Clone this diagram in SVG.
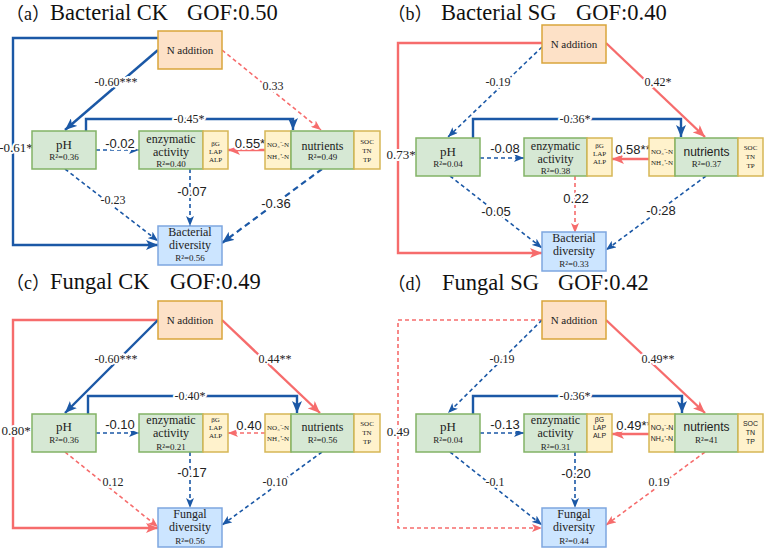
<svg xmlns="http://www.w3.org/2000/svg" width="767" height="551" viewBox="0 0 767 551">
<defs>
<marker id="ab" viewBox="0 0 12 10" refX="12" refY="5" markerWidth="12" markerHeight="10" markerUnits="userSpaceOnUse" orient="auto"><path d="M0,0 L12,5 L0,10 L3,5 z" fill="#1b58a6"/></marker>
<marker id="abd" viewBox="0 0 10 8" refX="10" refY="4" markerWidth="10" markerHeight="8" markerUnits="userSpaceOnUse" orient="auto"><path d="M0,0 L10,4 L0,8 L2.5,4 z" fill="#1b58a6"/></marker>
<marker id="ar" viewBox="0 0 12 10" refX="12" refY="5" markerWidth="12" markerHeight="10" markerUnits="userSpaceOnUse" orient="auto"><path d="M0,0 L12,5 L0,10 L3,5 z" fill="#f66c6c"/></marker>
<marker id="ard" viewBox="0 0 10 8" refX="10" refY="4" markerWidth="10" markerHeight="8" markerUnits="userSpaceOnUse" orient="auto"><path d="M0,0 L10,4 L0,8 L2.5,4 z" fill="#f66c6c"/></marker>
</defs>
<style>
.t{font-family:"Liberation Serif","Noto Sans CJK SC",serif;font-size:22.5px;fill:#111;text-anchor:start}
.tp{font-family:"Liberation Serif","Noto Sans CJK SC",serif;font-size:18px;fill:#111}
.n{fill:#fde1c7;stroke:#d9a53b;stroke-width:1.5}
.g{fill:#d6e8d4;stroke:#82b366;stroke-width:1.5}
.y{fill:#fff2cc;stroke:#d6b656;stroke-width:1.5}
.d{fill:#cce5ff;stroke:#7ea6e0;stroke-width:1.5}
text{font-family:"Liberation Serif",serif;fill:#222;text-anchor:middle}
.s11{font-size:11px}.s12{font-size:12px}.s13{font-size:13px}.s9{font-size:9px}.s7{font-size:7px}
.sans{font-family:"Liberation Sans",Arial,sans-serif}
.bs{fill:none;stroke:#1b58a6;stroke-width:2.4;marker-end:url(#ab)}
.bd{fill:none;stroke:#1b58a6;stroke-width:1.6;stroke-dasharray:4 3;marker-end:url(#abd)}
.bdt{fill:none;stroke:#1b58a6;stroke-width:2.2;stroke-dasharray:6 4;marker-end:url(#ab)}
.rs{fill:none;stroke:#f66c6c;stroke-width:2.4;marker-end:url(#ar)}
.rd{fill:none;stroke:#f66c6c;stroke-width:1.6;stroke-dasharray:4 3;marker-end:url(#ard)}
.l{paint-order:stroke;stroke:#fff;stroke-width:4px;stroke-linejoin:round;font-size:12px}
.ls{paint-order:stroke;stroke:#fff;stroke-width:4px;stroke-linejoin:round;font-size:13px;font-family:"Liberation Sans",Arial,sans-serif}
.lt{paint-order:stroke;stroke:#fff;stroke-width:4px;stroke-linejoin:round;font-size:13px}
</style>
<rect width="767" height="551" fill="#fff"/>

<g id="titles">
<text class="tp" x="28" y="20">（a）</text><text class="t" x="50" y="20">Bacterial CK</text><text class="t" x="187" y="20">GOF:0.50</text>
<text class="tp" x="410" y="20">（b）</text><text class="t" x="441" y="20">Bacterial SG</text><text class="t" x="576" y="20">GOF:0.40</text>
<text class="tp" x="28" y="289">（c）</text><text class="t" x="50" y="289">Fungal CK</text><text class="t" x="170" y="289">GOF:0.49</text>
<text class="tp" x="410" y="290">（d）</text><text class="t" x="442" y="290">Fungal SG</text><text class="t" x="558" y="290">GOF:0.42</text>
</g>

<g id="connectors">
<!-- a -->
<path class="bs" d="M158,38 H13 V245 H158"/>
<path class="bs" d="M158,50 L65,130"/>
<path class="rd" d="M222,50 L321,130"/>
<path class="bs" d="M86,131 V119 H293 V130"/>
<path class="bd" d="M96,150 H139"/>
<path class="rs" d="M265,150 H228"/>
<path class="bd" d="M190,169 V226"/>
<path class="bd" d="M65,169 L158,241"/>
<path class="bdt" d="M322,169 L222,243"/>
<!-- b -->
<path class="rs" d="M542,43 H398 V253 H542"/>
<path class="bd" d="M542,47 L448,137"/>
<path class="rs" d="M606,43 L705,137"/>
<path class="bs" d="M473,138 V119 H681 V137"/>
<path class="bd" d="M480,158 H524"/>
<path class="rs" d="M649,159 H612"/>
<path class="rd" d="M575,176 V233"/>
<path class="bd" d="M450,176 L542,248"/>
<path class="bd" d="M706,176 L606,250"/>
<!-- c -->
<path class="rs" d="M158,320 H13 V528 H158"/>
<path class="bs" d="M158,320 L65,413"/>
<path class="rs" d="M222,320 L320,413"/>
<path class="bs" d="M88,414 V396 H297 V413"/>
<path class="bd" d="M96,433 H139"/>
<path class="rd" d="M265,433 H228"/>
<path class="bd" d="M190,452 V508"/>
<path class="rd" d="M65,452 L158,527"/>
<path class="bd" d="M322,452 L222,525"/>
<!-- d -->
<path class="rd" d="M542,320 H398 V528 H542"/>
<path class="bd" d="M542,320 L448,413"/>
<path class="rs" d="M606,320 L705,413"/>
<path class="bs" d="M473,414 V396 H682 V413"/>
<path class="bd" d="M480,433 H524"/>
<path class="rs" d="M649,434 H612"/>
<path class="bd" d="M575,452 V508"/>
<path class="bd" d="M450,452 L542,525"/>
<path class="rd" d="M705,452 L606,525"/>
</g>

<g id="edge-labels">
<text class="l" x="116" y="86">-0.60***</text>
<text class="l" x="273" y="90">0.33</text>
<text class="l" x="189" y="123">-0.45*</text>
<text class="lt" x="16" y="152">-0.61*</text>
<text class="ls" x="120" y="148">-0.02</text>
<text class="ls" x="250" y="148">0.55*</text>
<text class="ls" x="192" y="196">-0.07</text>
<text class="l" x="113" y="204">-0.23</text>
<text class="ls" x="276" y="208">-0.36</text>

<text class="l" x="498" y="86">-0.19</text>
<text class="l" x="658" y="86">0.42*</text>
<text class="l" x="575" y="123">-0.36*</text>
<text class="lt" x="401" y="159">0.73*</text>
<text class="ls" x="505" y="153">-0.08</text>
<text class="ls" x="633" y="154">0.58**</text>
<text class="ls" x="576" y="203">0.22</text>
<text class="ls" x="496" y="216">-0.05</text>
<text class="ls" x="661" y="215">-0.28</text>

<text class="l" x="116" y="363">-0.60***</text>
<text class="l" x="275" y="363">0.44**</text>
<text class="l" x="190" y="400">-0.40*</text>
<text class="lt" x="16" y="435">0.80*</text>
<text class="ls" x="120" y="429">-0.10</text>
<text class="ls" x="249" y="430">0.40</text>
<text class="ls" x="192" y="477">-0.17</text>
<text class="l" x="113" y="486">0.12</text>
<text class="l" x="275" y="486">-0.10</text>

<text class="l" x="502" y="363">-0.19</text>
<text class="l" x="658" y="363">0.49**</text>
<text class="l" x="575" y="400">-0.36*</text>
<text class="lt" x="398" y="436">0.49</text>
<text class="ls" x="505" y="429">-0.13</text>
<text class="ls" x="634" y="430">0.49**</text>
<text class="ls" x="576" y="478">-0.20</text>
<text class="l" x="495" y="486">-0.1</text>
<text class="l" x="659" y="486">0.19</text>
</g>

<g id="a-n"><rect class="n" x="158" y="31" width="64" height="38"/><text class="s11" x="190" y="54">N addition</text></g>
<g id="a-ph"><rect class="g" x="32" y="131" width="64" height="38"/><text class="s13" x="64" y="149">pH</text><text class="s9" x="64" y="160">R²=0.36</text></g>
<g id="a-enz"><rect class="g" x="139" y="131" width="64" height="38"/><text class="s12" x="171" y="143">enzymatic</text><text class="s12" x="171" y="156">activity</text><text class="s9" x="171" y="167">R²=0.40</text>
<rect class="y" x="203" y="131" width="25" height="38"/><text class="s7" x="215.5" y="146">βG</text><text class="s7" x="215.5" y="154">LAP</text><text class="s7" x="215.5" y="162">ALP</text></g>
<g id="a-nut"><rect class="y" x="265" y="131" width="26" height="38"/><text class="s7" x="278" y="147">NO₃⁻-N</text><text class="s7" x="278" y="159">NH₄⁺-N</text>
<rect class="g" x="291" y="131" width="63" height="38"/><text class="s12" x="322.5" y="150">nutrients</text><text class="s9" x="322.5" y="160">R²=0.49</text>
<rect class="y" x="354" y="131" width="26" height="38"/><text class="s7" x="367" y="144">SOC</text><text class="s7" x="367" y="153">TN</text><text class="s7" x="367" y="162">TP</text></g>
<g id="a-div"><rect class="d" x="158" y="226" width="64" height="39"/><text class="s12" x="190" y="236">Bacterial</text><text class="s12" x="190" y="249">diversity</text><text class="s9" x="190" y="261">R²=0.56</text></g>

<g id="b-n"><rect class="n" x="542" y="25" width="64" height="38"/><text class="s11" x="574" y="48">N addition</text></g>
<g id="b-ph"><rect class="g" x="416" y="138" width="64" height="38"/><text class="s13" x="448" y="156">pH</text><text class="s9" x="448" y="167">R²=0.04</text></g>
<g id="b-enz"><rect class="g" x="524" y="138" width="63" height="38"/><text class="s12" x="555.5" y="150">enzymatic</text><text class="s12" x="555.5" y="163">activity</text><text class="s9" x="555.5" y="174">R²=0.38</text>
<rect class="y" x="587" y="138" width="25" height="38"/><text class="s7" x="599.5" y="148">βG</text><text class="s7" x="599.5" y="156">LAP</text><text class="s7" x="599.5" y="164">ALP</text></g>
<g id="b-nut"><rect class="y" x="649" y="138" width="26" height="38"/><text class="s7" x="662" y="154">NO₃⁻-N</text><text class="s7" x="662" y="165">NH₄⁺-N</text>
<rect class="g" x="675" y="138" width="63" height="38"/><text class="s12 sans" x="706.5" y="156">nutrients</text><text class="s9" x="706.5" y="167">R²=0.37</text>
<rect class="y" x="738" y="138" width="25" height="38"/><text class="s7" x="750.5" y="150">SOC</text><text class="s7" x="750.5" y="159">TN</text><text class="s7" x="750.5" y="168">TP</text></g>
<g id="b-div"><rect class="d" x="542" y="232" width="64" height="39"/><text class="s12" x="574" y="242">Bacterial</text><text class="s12" x="574" y="255">diversity</text><text class="s9" x="574" y="266.5">R²=0.33</text></g>

<g id="c-n"><rect class="n" x="158" y="301" width="64" height="38"/><text class="s11" x="190" y="324">N addition</text></g>
<g id="c-ph"><rect class="g" x="32" y="414" width="64" height="38"/><text class="s13" x="64" y="431">pH</text><text class="s9" x="64" y="443">R²=0.36</text></g>
<g id="c-enz"><rect class="g" x="139" y="414" width="64" height="38"/><text class="s12" x="171" y="424">enzymatic</text><text class="s12" x="171" y="437">activity</text><text class="s9" x="171" y="450">R²=0.21</text>
<rect class="y" x="203" y="414" width="25" height="38"/><text class="s7" x="215.5" y="422">βG</text><text class="s7" x="215.5" y="430">LAP</text><text class="s7" x="215.5" y="438">ALP</text></g>
<g id="c-nut"><rect class="y" x="265" y="414" width="26" height="38"/><text class="s7" x="278" y="430">NO₃⁻-N</text><text class="s7" x="278" y="441">NH₄⁺-N</text>
<rect class="g" x="291" y="414" width="63" height="38"/><text class="s12" x="322.5" y="431">nutrients</text><text class="s9" x="322.5" y="443">R²=0.56</text>
<rect class="y" x="354" y="414" width="26" height="38"/><text class="s7" x="367" y="426">SOC</text><text class="s7" x="367" y="435">TN</text><text class="s7" x="367" y="444">TP</text></g>
<g id="c-div"><rect class="d" x="158" y="508" width="64" height="39"/><text class="s12" x="190" y="518">Fungal</text><text class="s12" x="190" y="531">diversity</text><text class="s9" x="190" y="544">R²=0.56</text></g>

<g id="d-n"><rect class="n" x="542" y="301" width="64" height="38"/><text class="s11" x="574" y="324">N addition</text></g>
<g id="d-ph"><rect class="g" x="416" y="414" width="64" height="38"/><text class="s13" x="448" y="431">pH</text><text class="s9" x="448" y="443">R²=0.04</text></g>
<g id="d-enz"><rect class="g" x="524" y="414" width="63" height="38"/><text class="s12" x="555.5" y="424">enzymatic</text><text class="s12" x="555.5" y="437">activity</text><text class="s9" x="555.5" y="450">R²=0.31</text>
<rect class="y" x="587" y="414" width="25" height="38"/><text class="s7 sans" x="599.5" y="422">βG</text><text class="s7 sans" x="599.5" y="430">LAP</text><text class="s7 sans" x="599.5" y="438">ALP</text></g>
<g id="d-nut"><rect class="y" x="649" y="414" width="26" height="38"/><text class="s7 sans" x="662" y="430">NO₃⁻-N</text><text class="s7 sans" x="662" y="441">NH₄⁺-N</text>
<rect class="g" x="675" y="414" width="63" height="38"/><text class="s12 sans" x="706.5" y="431">nutrients</text><text class="s9" x="706.5" y="443">R²=41</text>
<rect class="y" x="738" y="414" width="25" height="38"/><text class="s7 sans" x="750.5" y="426">SOC</text><text class="s7 sans" x="750.5" y="435">TN</text><text class="s7 sans" x="750.5" y="444">TP</text></g>
<g id="d-div"><rect class="d" x="542" y="508" width="64" height="39"/><text class="s12" x="574" y="518">Fungal</text><text class="s12" x="574" y="531">diversity</text><text class="s9" x="574" y="544">R²=0.44</text></g>
</svg>
